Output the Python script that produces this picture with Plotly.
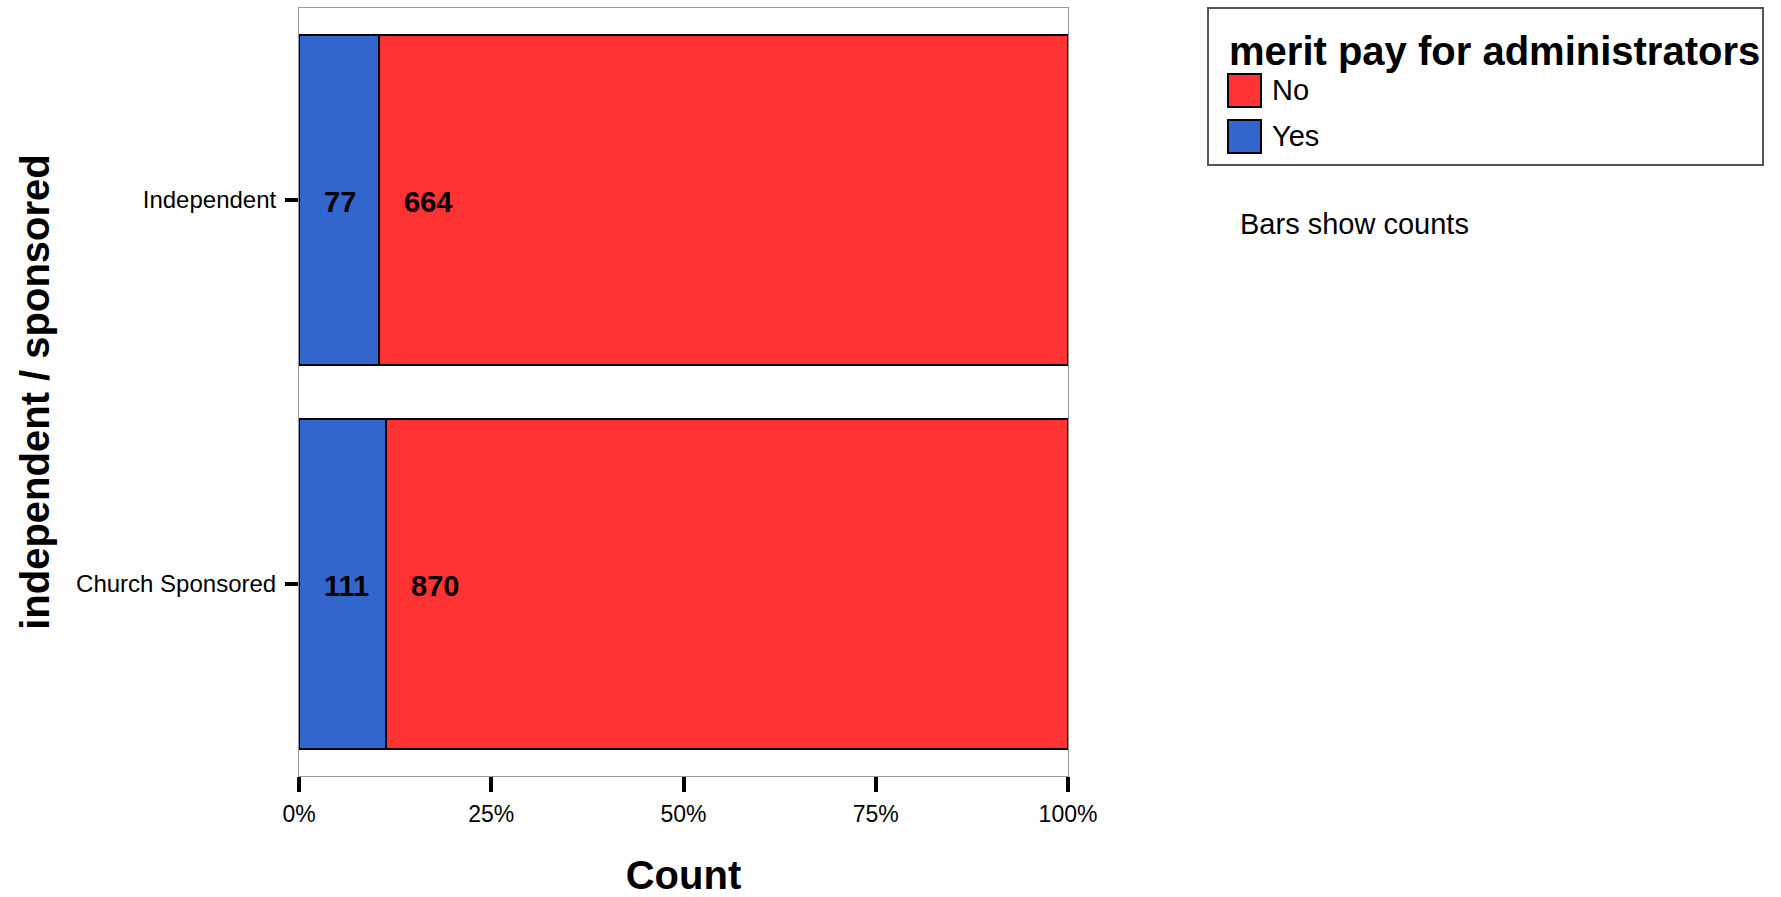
import plotly.graph_objects as go

categories = ["Church Sponsored", "Independent"]
series_names = ["Yes", "No"]
yes_counts = [111, 77]
no_counts = [870, 664]
colors = {"Yes": "#3366CC", "No": "#FF3333"}
x_tickvals = [0, 25, 50, 75, 100]
x_ticktext = ["0%", "25%", "50%", "75%", "100%"]

W, H = 1781, 897
L, R, T, B = 299, 1781 - 1068, 8, 897 - 776
PW, PH = W - L - R, H - T - B

def px(xp):
    return (xp - L) / PW

def py(yp):
    return (H - B - yp) / PH

totals = [y + n for y, n in zip(yes_counts, no_counts)]
yes_pct = [100 * y / t for y, t in zip(yes_counts, totals)]
no_pct = [100 * n / t for n, t in zip(no_counts, totals)]

FONT = "Liberation Sans, Arial, sans-serif"

fig = go.Figure()
fig.add_trace(go.Bar(y=categories, x=yes_pct, orientation="h", name="Yes",
                     marker=dict(color=colors["Yes"], line=dict(color="black", width=2.5)),
                     width=0.857, showlegend=False, hoverinfo="skip"))
fig.add_trace(go.Bar(y=categories, x=no_pct, orientation="h", name="No",
                     marker=dict(color=colors["No"], line=dict(color="black", width=2.5)),
                     width=0.857, showlegend=False, hoverinfo="skip"))

annotations = []
for i, cat in enumerate(categories):
    annotations.append(dict(x=0, y=cat, xref="x", yref="y", text=f"<b>{yes_counts[i]}</b>",
                            showarrow=False, xanchor="left", xshift=23, yshift=-2,
                            font=dict(family=FONT, size=29, color="black")))
    annotations.append(dict(x=yes_pct[i], y=cat, xref="x", yref="y", text=f"<b>{no_counts[i]}</b>",
                            showarrow=False, xanchor="left", xshift=23, yshift=-2,
                            font=dict(family=FONT, size=29, color="black")))

# legend (drawn manually)
shapes = [dict(type="rect", xref="paper", yref="paper", x0=px(1208), x1=px(1763), y0=py(8), y1=py(165),
               line=dict(color="#555555", width=2), fillcolor="white", layer="below")]
annotations.append(dict(x=px(1227), y=py(51), xref="paper", yref="paper", xanchor="left", yanchor="middle",
                        text="<b>merit pay for administrators</b>", showarrow=False,
                        font=dict(family=FONT, size=40, color="black")))
leg_rows = [("No", 90), ("Yes", 136)]
for name, yc in leg_rows:
    shapes.append(dict(type="rect", xref="paper", yref="paper", x0=px(1228), x1=px(1261),
                       y0=py(yc - 16), y1=py(yc + 17), fillcolor=colors[name],
                       line=dict(color="black", width=2)))
    annotations.append(dict(x=px(1270), y=py(yc), xref="paper", yref="paper", xanchor="left", yanchor="middle",
                            text=name, showarrow=False, font=dict(family=FONT, size=29, color="black")))
annotations.append(dict(x=px(1238), y=py(224), xref="paper", yref="paper", xanchor="left", yanchor="middle",
                        text="Bars show counts", showarrow=False, font=dict(family=FONT, size=29, color="black")))

fig.update_layout(
    width=W, height=H, margin=dict(l=L, r=R, t=T, b=B, autoexpand=False),
    barmode="stack", bargap=0, plot_bgcolor="white", paper_bgcolor="white",
    font=dict(family=FONT, color="black"),
    showlegend=False, annotations=annotations, shapes=shapes,
    xaxis=dict(range=[0, 100], tickvals=x_tickvals, ticktext=x_ticktext, ticks="outside",
               ticklen=15, tickwidth=4, tickcolor="black", showline=True, linecolor="#999999",
               linewidth=1, mirror=True, showgrid=False, zeroline=False,
               tickfont=dict(family=FONT, size=23), ticklabelstandoff=2,
               title=dict(text="<b>Count</b>", font=dict(family=FONT, size=40), standoff=41)),
    yaxis=dict(categoryorder="array", categoryarray=categories, range=[-0.5, 1.5], ticks="outside",
               ticklen=13, tickwidth=4, tickcolor="black", showline=True, linecolor="#999999",
               linewidth=1, mirror=True, showgrid=False, zeroline=False,
               tickfont=dict(family=FONT, size=24), ticklabelstandoff=4,
               title=dict(text="<b>independent / sponsored</b>", font=dict(family=FONT, size=40), standoff=14)),
)
fig.write_html("out.html", config={"displayModeBar": False},
               post_script="document.body.style.margin='0';document.body.style.overflow='hidden';")
